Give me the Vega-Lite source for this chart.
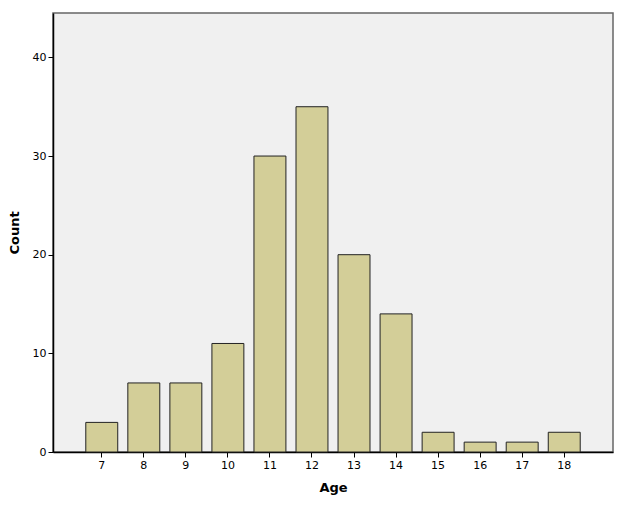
{
  "$schema": "https://vega.github.io/schema/vega-lite/v6.json",
  "autosize": "none",
  "padding": {"left": 53, "top": 13, "right": 18, "bottom": 59},
  "width": 560,
  "height": 439,
  "background": "white",
  "data": {
    "values": [
      {"age": "7", "count": 3},
      {"age": "8", "count": 7},
      {"age": "9", "count": 7},
      {"age": "10", "count": 11},
      {"age": "11", "count": 30},
      {"age": "12", "count": 35},
      {"age": "13", "count": 20},
      {"age": "14", "count": 14},
      {"age": "15", "count": 2},
      {"age": "16", "count": 1},
      {"age": "17", "count": 1},
      {"age": "18", "count": 2}
    ]
  },
  "mark": {"type": "bar", "fill": "#D3CE98", "stroke": "#222222", "strokeWidth": 1},
  "encoding": {
    "x": {
      "field": "age",
      "type": "ordinal",
      "sort": null,
      "title": "Age",
      "scale": {"paddingInner": 0.24, "paddingOuter": 0.78},
      "axis": {"labelAngle": 0, "titlePadding": 11}
    },
    "y": {
      "field": "count",
      "type": "quantitative",
      "title": "Count",
      "scale": {"domain": [0, 44.5], "nice": false},
      "axis": {"values": [0, 10, 20, 30, 40], "titlePadding": 11}
    }
  },
  "config": {
    "view": {"fill": "#F0F0F0", "stroke": "#666666", "strokeWidth": 1.5},
    "axis": {
      "grid": false,
      "domainColor": "#000000",
      "domainWidth": 1.5,
      "tickColor": "#000000",
      "tickSize": 5,
      "labelFont": "DejaVu Sans",
      "labelFontSize": 11,
      "labelColor": "#000000",
      "titleFont": "DejaVu Sans",
      "titleFontSize": 13,
      "titleFontWeight": "bold",
      "titleColor": "#000000"
    }
  }
}
